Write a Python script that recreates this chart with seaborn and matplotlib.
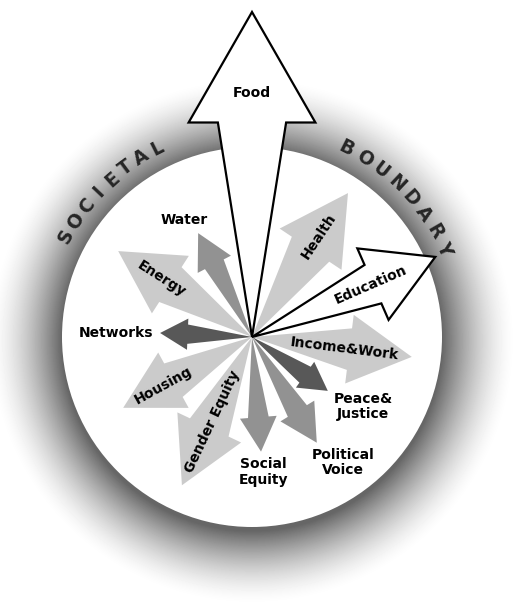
import numpy as np
import matplotlib
matplotlib.use("Agg")
import matplotlib.pyplot as plt
from matplotlib.patches import Polygon, Circle
import seaborn as sns

# arrows: name, direction (deg, counter-clockwise from east), length (px)
names = ["Food", "Water", "Energy", "Networks", "Housing", "Gender Equity",
         "Social\nEquity", "Political\nVoice", "Peace&\nJustice",
         "Income&Work", "Education", "Health"]
angles = [90, 117.4, 147.3, 177.5, 208.8, 244.7, 274.5, 301.5, 324.6, 352.9, 23.6, 56.3]
lengths = [325, 117, 159, 92, 147, 164, 115, 124, 93, 161, 200, 173]
tiers = ["open", "mid", "light", "dark", "light", "light",
         "mid", "mid", "dark", "light", "open", "light"]

ring_left = "SOCIETAL"
ring_right = "BOUNDARY"

sns.set_theme(style="white")
plt.rcParams["font.family"] = ["DejaVu Sans"]

# arrow styles by tier: colour, edge, head width / head length / shaft width as share of length
style = {
    "light": dict(fc="#cbcbcb", ec="none", lw=0, hw=0.43, hl=0.39, sw=0.26, z=2),
    "mid": dict(fc="#929292", ec="none", lw=0, hw=0.32, hl=0.30, sw=0.18, z=3),
    "dark": dict(fc="#585858", ec="none", lw=0, hw=0.34, hl=0.30, sw=0.21, z=3),
    "open": dict(fc="white", ec="black", lw=1.6, hw=0.39, hl=0.34, sw=0.21, z=5),
}

W, H = 519, 604
hub = np.array([252.0, 337.0])
R = 190

fig = plt.figure(figsize=(W / 100, H / 100), dpi=100)
ax = fig.add_axes([0, 0, 1, 1])
ax.set_xlim(0, W)
ax.set_ylim(H, 0)
ax.axis("off")

# soft grey halo round the circle
yy, xx = np.mgrid[0:H, 0:W] + 0.5
d = np.hypot(xx - hub[0], yy - hub[1] - 4)
t = np.clip((d - R) / 74.0, 0, 1)
shade = 1 - 0.6 * (1 - t) ** 1.6
ax.imshow(shade, extent=(0, W, H, 0), cmap="gray", vmin=0, vmax=1, zorder=0)
ax.add_patch(Circle(hub, R, fc="white", ec="none", zorder=1))


def unit(a):
    r = np.deg2rad(a)
    return np.array([np.cos(r), -np.sin(r)]), np.array([np.sin(r), np.cos(r)])


for name, a, L, tier in zip(names, angles, lengths, tiers):
    s = style[tier]
    u, n = unit(a)
    base = hub + (L - s["hl"] * L) * u
    pts = [hub,
           base + s["sw"] * L / 2 * n,
           base + s["hw"] * L / 2 * n,
           hub + L * u,
           base - s["hw"] * L / 2 * n,
           base - s["sw"] * L / 2 * n]
    ax.add_patch(Polygon(pts, closed=True, fc=s["fc"], ec=s["ec"], lw=s["lw"],
                         joinstyle="miter", zorder=s["z"]))

# label placement: inside the arrow (share of length) or outside (radius, angle)
place = {
    "Food": ("in", 0.75), "Energy": ("in", 0.68), "Health": ("in", 0.70),
    "Education": ("in", 0.65), "Income&Work": ("in", 0.58), "Housing": ("in", 0.69),
    "Gender Equity": ("in", 0.57),
    "Water": ("out", 135, 120), "Networks": ("out", 136, 178.3),
    "Peace&\nJustice": ("out", 131, -32.2), "Political\nVoice": ("out", 155, -54),
    "Social\nEquity": ("out", 135.5, -85.3),
}

for name, a, L in zip(names, angles, lengths):
    p = place[name]
    if p[0] == "in":
        u, _ = unit(a)
        pos = hub + p[1] * L * u
        rot = (a + 90) % 180 - 90
        if name == "Food":
            rot = 0
    else:
        u, _ = unit(p[2])
        pos = hub + p[1] * u
        rot = 0
    ax.text(pos[0], pos[1], name, ha="center", va="center", rotation=rot,
            rotation_mode="anchor", fontsize=10, fontweight="bold",
            linespacing=1.1, color="black", zorder=6)

# curved boundary words
for word, start, step, r in [(ring_left, 151.6, -5.0, 211), (ring_right, 63.4, -5.55, 211)]:
    for i, ch in enumerate(word):
        th = start + step * i
        u, _ = unit(th)
        pos = hub + r * u
        ax.text(pos[0], pos[1], ch, ha="center", va="center", rotation=th - 90,
                rotation_mode="anchor", fontsize=13.5, fontweight="bold", zorder=6)

fig.savefig("out.png", dpi=100)
